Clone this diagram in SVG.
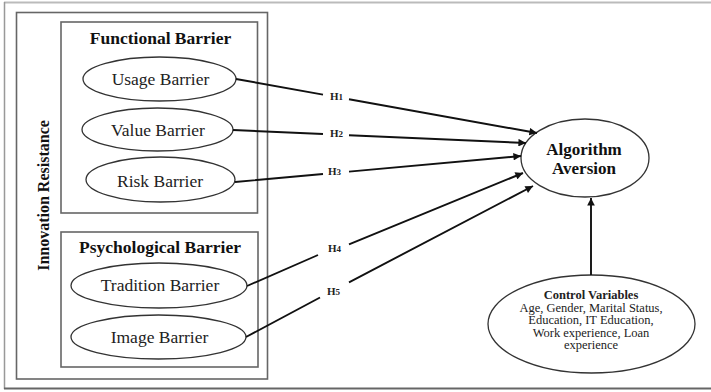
<svg xmlns="http://www.w3.org/2000/svg" width="711" height="392" viewBox="0 0 711 392">
  <style>
    .frame { fill: none; stroke: #666; stroke-width: 1.6; }
    .oval { fill: #fff; stroke: #333; stroke-width: 1.3; }
    .title { font-family: "Liberation Serif", "Times New Roman", serif; font-weight: bold; font-size: 17.5px; fill: #111; text-anchor: middle; }
    .label { font-family: "Liberation Serif", "Times New Roman", serif; font-size: 17.5px; fill: #222; text-anchor: middle; }
    .hyp { font-family: "Liberation Serif", "Times New Roman", serif; font-weight: bold; font-size: 11px; fill: #222; }
    .small { font-family: "Liberation Serif", "Times New Roman", serif; font-size: 12.5px; fill: #222; text-anchor: middle; }
    .edge { fill: none; stroke: #111; stroke-width: 1.9; marker-end: url(#arrow); }
  </style>
  <defs>
    <marker id="arrow" viewBox="0 0 10 10" refX="10" refY="5" markerWidth="4.5" markerHeight="4" orient="auto" markerUnits="strokeWidth">
      <path d="M0,0 L10,5 L0,10 z" fill="#111"/>
    </marker>
  </defs>

  <rect width="711" height="392" fill="#fff"/>

  <!-- page border -->
  <g id="border">
    <line x1="4" y1="2.5" x2="711" y2="2.5" stroke="#bbb" stroke-width="2"/>
    <line x1="4.5" y1="2" x2="4.5" y2="389" stroke="#999" stroke-width="1.5"/>
    <line x1="4" y1="388.5" x2="711" y2="388.5" stroke="#666" stroke-width="2"/>
  </g>

  <!-- innovation resistance container -->
  <g id="innovation-resistance">
    <rect class="frame" x="16.5" y="12.5" width="251" height="366.5"/>
    <text class="title" font-size="16" transform="translate(49,195.5) rotate(-90)" style="font-size:16px">Innovation Resistance</text>
  </g>

  <!-- functional barrier group -->
  <g id="functional-barrier">
    <rect class="frame" x="61" y="22" width="196.5" height="191"/>
    <text class="title" x="160.5" y="44">Functional Barrier</text>
  </g>

  <g id="usage-barrier">
    <ellipse class="oval" cx="159.5" cy="79" rx="76.5" ry="22"/>
    <text class="label" x="160.5" y="84.5">Usage Barrier</text>
  </g>
  <g id="value-barrier">
    <ellipse class="oval" cx="157.5" cy="129.5" rx="75.5" ry="21.5"/>
    <text class="label" x="158" y="135.5">Value Barrier</text>
  </g>
  <g id="risk-barrier">
    <ellipse class="oval" cx="160.5" cy="179.5" rx="74.5" ry="22.5"/>
    <text class="label" x="160" y="187">Risk Barrier</text>
  </g>

  <!-- psychological barrier group -->
  <g id="psychological-barrier">
    <rect class="frame" x="61" y="232" width="197" height="135"/>
    <text class="title" x="160" y="253">Psychological Barrier</text>
  </g>

  <g id="tradition-barrier">
    <ellipse class="oval" cx="159" cy="285.5" rx="88" ry="22.5"/>
    <text class="label" x="160" y="291">Tradition Barrier</text>
  </g>
  <g id="image-barrier">
    <ellipse class="oval" cx="158.5" cy="337" rx="87.5" ry="22"/>
    <text class="label" x="159.5" y="343">Image Barrier</text>
  </g>

  <!-- outcome -->
  <g id="algorithm-aversion">
    <ellipse class="oval" cx="585" cy="158" rx="64" ry="39"/>
    <text class="title" x="584" y="155" style="font-size:17px">Algorithm</text>
    <text class="title" x="584" y="174" style="font-size:17px">Aversion</text>
  </g>

  <!-- controls -->
  <g id="control-variables">
    <ellipse class="oval" cx="591.5" cy="324" rx="103.5" ry="49"/>
    <text class="small" x="591" y="299" font-weight="bold">Control Variables</text>
    <text class="small" x="591" y="311.5">Age, Gender, Marital Status,</text>
    <text class="small" x="591" y="324">Education, IT Education,</text>
    <text class="small" x="591" y="336.5">Work experience, Loan</text>
    <text class="small" x="591" y="349">experience</text>
  </g>

  <!-- hypothesis paths -->
  <g id="connectors">
    <path class="edge" d="M236,79 L323,94.6 M349,99.3 L537,133"/>
    <path class="edge" d="M233,130 L323,134 M349,135.2 L526,143"/>
    <path class="edge" d="M235,182 L323,174 M349,171.6 L521,156"/>
    <path class="edge" d="M247,286 L318,255 M349,244.3 L523,173"/>
    <path class="edge" d="M246,337 L320,297.5 M349,282.3 L533,186"/>
    <path class="edge" d="M591,275 L591,198"/>
    <text class="hyp" x="330" y="99.5">H<tspan font-size="9">1</tspan></text>
    <text class="hyp" x="330" y="137">H<tspan font-size="9">2</tspan></text>
    <text class="hyp" x="328" y="174.5">H<tspan font-size="9">3</tspan></text>
    <text class="hyp" x="328" y="252">H<tspan font-size="9">4</tspan></text>
    <text class="hyp" x="327" y="295">H<tspan font-size="9">5</tspan></text>
  </g>
</svg>
